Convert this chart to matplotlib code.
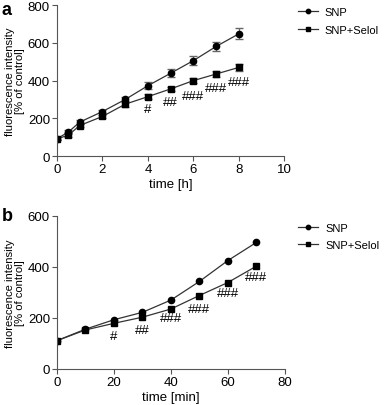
import numpy as np
import matplotlib
matplotlib.use("Agg")
import matplotlib.pyplot as plt

plt.rcParams['font.family'] = ['Liberation Sans', 'DejaVu Sans']

# panel a: time in hours
t_a = [0, 0.5, 1, 2, 3, 4, 5, 6, 7, 8]
snp_a = [92, 127, 180, 236, 300, 373, 439, 506, 581, 648]
snp_a_err = [8, 10, 10, 10, 15, 20, 20, 25, 22, 28]
selol_a = [92, 110, 162, 210, 275, 315, 356, 400, 435, 470]
selol_a_err = [8, 10, 10, 10, 15, 12, 12, 15, 15, 18]
sig_a_t = [4, 5, 6, 7, 8]
sig_a_y = [250, 285, 320, 360, 395]
sig_a_lab = ['#', '##', '###', '###', '###']

# panel b: time in minutes
t_b = [0, 10, 20, 30, 40, 50, 60, 70]
snp_b = [111, 156, 193, 222, 270, 343, 425, 496]
selol_b = [111, 153, 179, 203, 235, 288, 339, 403]
sig_b_t = [20, 30, 40, 50, 60, 70]
sig_b_y = [130, 154, 200, 235, 296, 362]
sig_b_lab = ['#', '##', '###', '###', '###', '###']

fig = plt.figure(figsize=(3.87, 4.06), dpi=100)
ax1 = fig.add_axes([0.147, 0.613, 0.588, 0.372])
ax2 = fig.add_axes([0.147, 0.0887, 0.589, 0.377])

line_kw = dict(color='#333333', lw=0.9, mfc='black', mec='black')

eb1 = ax1.errorbar(t_a, snp_a, yerr=snp_a_err, marker='o', ms=4.5, capsize=3,
                   ecolor='#666666', elinewidth=0.9, **line_kw)
eb2 = ax1.errorbar(t_a, selol_a, yerr=selol_a_err, marker='s', ms=4.5, capsize=3,
                   ecolor='#666666', elinewidth=0.9, **line_kw)
for x, y, s in zip(sig_a_t, sig_a_y, sig_a_lab):
    ax1.text(x, y, s, ha='center', va='center', fontsize=9.5)
ax1.set_xlim(0, 10)
ax1.set_ylim(0, 800)
ax1.set_xticks([0, 2, 4, 6, 8, 10])
ax1.set_yticks([0, 200, 400, 600, 800])
ax1.set_xlabel('time [h]', fontsize=9.5, labelpad=2)

l1, = ax2.plot(t_b, snp_b, marker='o', ms=4.5, **line_kw)
l2, = ax2.plot(t_b, selol_b, marker='s', ms=4.5, **line_kw)
for x, y, s in zip(sig_b_t, sig_b_y, sig_b_lab):
    ax2.text(x, y, s, ha='center', va='center', fontsize=9.5)
ax2.set_xlim(0, 80)
ax2.set_ylim(0, 600)
ax2.set_xticks([0, 20, 40, 60, 80])
ax2.set_yticks([0, 200, 400, 600])
ax2.set_xlabel('time [min]', fontsize=9.5, labelpad=2)

legends = [(ax1, [eb1.lines[0], eb2.lines[0]], (1.03, 1.03)),
           (ax2, [l1, l2], (1.03, 1.0))]
for ax, handles, anchor in legends:
    for sp in ('top', 'right'):
        ax.spines[sp].set_visible(False)
    ax.spines['left'].set_color('#555555')
    ax.spines['bottom'].set_color('#555555')
    ax.tick_params(labelsize=9.5, length=3.5, color='#555555', pad=1.5)
    ax.set_ylabel('fluorescence intensity\n[% of control]', fontsize=8.1,
                  linespacing=1.05, labelpad=2)
    ax.legend(handles, ['SNP', 'SNP+Selol'], loc='upper left',
              bbox_to_anchor=anchor, frameon=False,
              fontsize=8, handlelength=1.8, handletextpad=0.6,
              labelspacing=0.7, borderaxespad=0.2, markerscale=0.7)

fig.text(0.005, 0.995, 'a', fontsize=13, fontweight='bold', va='top')
fig.text(0.005, 0.487, 'b', fontsize=13, fontweight='bold', va='top')

fig.savefig('out.png', dpi=100)
